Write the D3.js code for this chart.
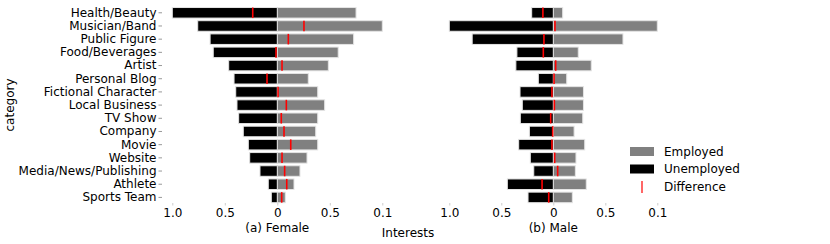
<!DOCTYPE html>
<html><head><meta charset="utf-8">
<script src="https://cdn.jsdelivr.net/npm/d3@7"></script>
<style>body{margin:0;background:#fff}svg{display:block}text{font-family:"DejaVu Sans",sans-serif;}</style>
</head><body>
<svg id="c" width="830" height="244"></svg>
<script>
const categories = ["Health/Beauty","Musician/Band","Public Figure","Food/Beverages","Artist","Personal Blog","Fictional Character","Local Business","TV Show","Company","Movie","Website","Media/News/Publishing","Athlete","Sports Team"];
const femaleUnemployed = [1.0,0.758,0.64,0.61,0.463,0.412,0.396,0.384,0.368,0.324,0.276,0.263,0.165,0.086,0.057];
const femaleEmployed   = [0.75,1.0,0.727,0.58,0.486,0.295,0.385,0.451,0.385,0.366,0.385,0.283,0.216,0.159,0.076];
const femaleDiff       = [-0.234,0.254,0.105,-0.012,0.045,-0.098,0.007,0.086,0.038,0.064,0.128,0.045,0.07,0.09,0.042];
const maleUnemployed = [0.208,1.0,0.78,0.35,0.36,0.144,0.32,0.298,0.317,0.23,0.333,0.221,0.188,0.442,0.243];
const maleEmployed   = [0.09,1.0,0.67,0.24,0.365,0.129,0.29,0.29,0.283,0.2,0.302,0.218,0.212,0.317,0.183];
const maleDiff       = [-0.1,0.016,-0.09,-0.096,0.023,0.007,-0.013,0.01,-0.025,-0.006,-0.013,0.013,0.042,-0.108,-0.044];
const tickValues = [-1,-0.5,0,0.5,1];
const tickLabels = ["1.0","0.5","0","0.5","0.1"];
const panelTitles = ["(a) Female","(b) Male"];

const svg = d3.select("#c");
const y = d3.scaleBand().domain(categories).range([6.2,204]).paddingInner(0.2).paddingOuter(0.1);

const panels = [
  {x: d3.scaleLinear().domain([-1,1]).range([172.3,382.3]), u: femaleUnemployed, e: femaleEmployed, d: femaleDiff, title: panelTitles[0]},
  {x: d3.scaleLinear().domain([-1,1]).range([449.3,657.3]), u: maleUnemployed, e: maleEmployed, d: maleDiff, title: panelTitles[1]}
];

panels.forEach(p => {
  const g = svg.append("g");
  const x = p.x;
  g.selectAll("rect.emp").data(categories).join("rect")
    .attr("x", x(0)).attr("y", c => y(c))
    .attr("width", (c,i) => x(p.e[i]) - x(0)).attr("height", y.bandwidth())
    .attr("fill", "#808080").attr("stroke", "#e4e4e4").attr("stroke-width", 1);
  g.selectAll("rect.unemp").data(categories).join("rect")
    .attr("x", (c,i) => x(-p.u[i])).attr("y", c => y(c))
    .attr("width", (c,i) => x(0) - x(-p.u[i])).attr("height", y.bandwidth())
    .attr("fill", "#000").attr("stroke", "#e4e4e4").attr("stroke-width", 1);
  g.selectAll("line.diff").data(categories).join("line")
    .attr("x1", (c,i) => x(p.d[i])).attr("x2", (c,i) => x(p.d[i]))
    .attr("y1", c => y(c)).attr("y2", c => y(c) + y.bandwidth())
    .attr("stroke", "red").attr("stroke-width", 1.6);
  const ax = g.append("g").attr("transform", "translate(0,203)")
    .call(d3.axisBottom(x).tickValues(tickValues).tickFormat((d,i) => tickLabels[i]).tickSize(2.5).tickPadding(3));
  ax.select(".domain").remove();
  ax.selectAll(".tick line").attr("stroke", "#ccc");
  ax.selectAll(".tick text").attr("font-size", 12).attr("fill", "#000").attr("font-family", "DejaVu Sans");
  g.append("text").attr("x", x(0)).attr("y", 232).attr("text-anchor", "middle").attr("font-size", 12).text(p.title);
});

const ay = svg.append("g").attr("transform", "translate(162,0)")
  .call(d3.axisLeft(y).tickSize(3.5).tickPadding(2));
ay.select(".domain").remove();
ay.selectAll(".tick line").attr("stroke", "#999");
ay.selectAll(".tick text").attr("font-size", 12).attr("fill", "#000").attr("font-family", "DejaVu Sans");

svg.append("text").attr("transform", "translate(14,105) rotate(-90)").attr("text-anchor", "middle").attr("font-size", 12).text("category");
svg.append("text").attr("x", 408).attr("y", 237).attr("text-anchor", "middle").attr("font-size", 12).text("Interests");

const legend = svg.append("g");
const legendItems = ["Employed","Unemployed","Difference"];
const legendY = [151.5, 169, 187];
legend.append("rect").attr("x", 630).attr("y", legendY[0]-4.5).attr("width", 24).attr("height", 9).attr("fill", "#808080");
legend.append("rect").attr("x", 630).attr("y", legendY[1]-4.5).attr("width", 24).attr("height", 9).attr("fill", "#000");
legend.append("line").attr("x1", 642).attr("x2", 642).attr("y1", legendY[2]-6).attr("y2", legendY[2]+6).attr("stroke", "red").attr("stroke-width", 1.2);
legend.selectAll("text").data(legendItems).join("text")
  .attr("x", 664).attr("y", (d,i) => legendY[i]).attr("dy", "0.35em").attr("font-size", 12).text(d => d);
</script>
</body></html>
